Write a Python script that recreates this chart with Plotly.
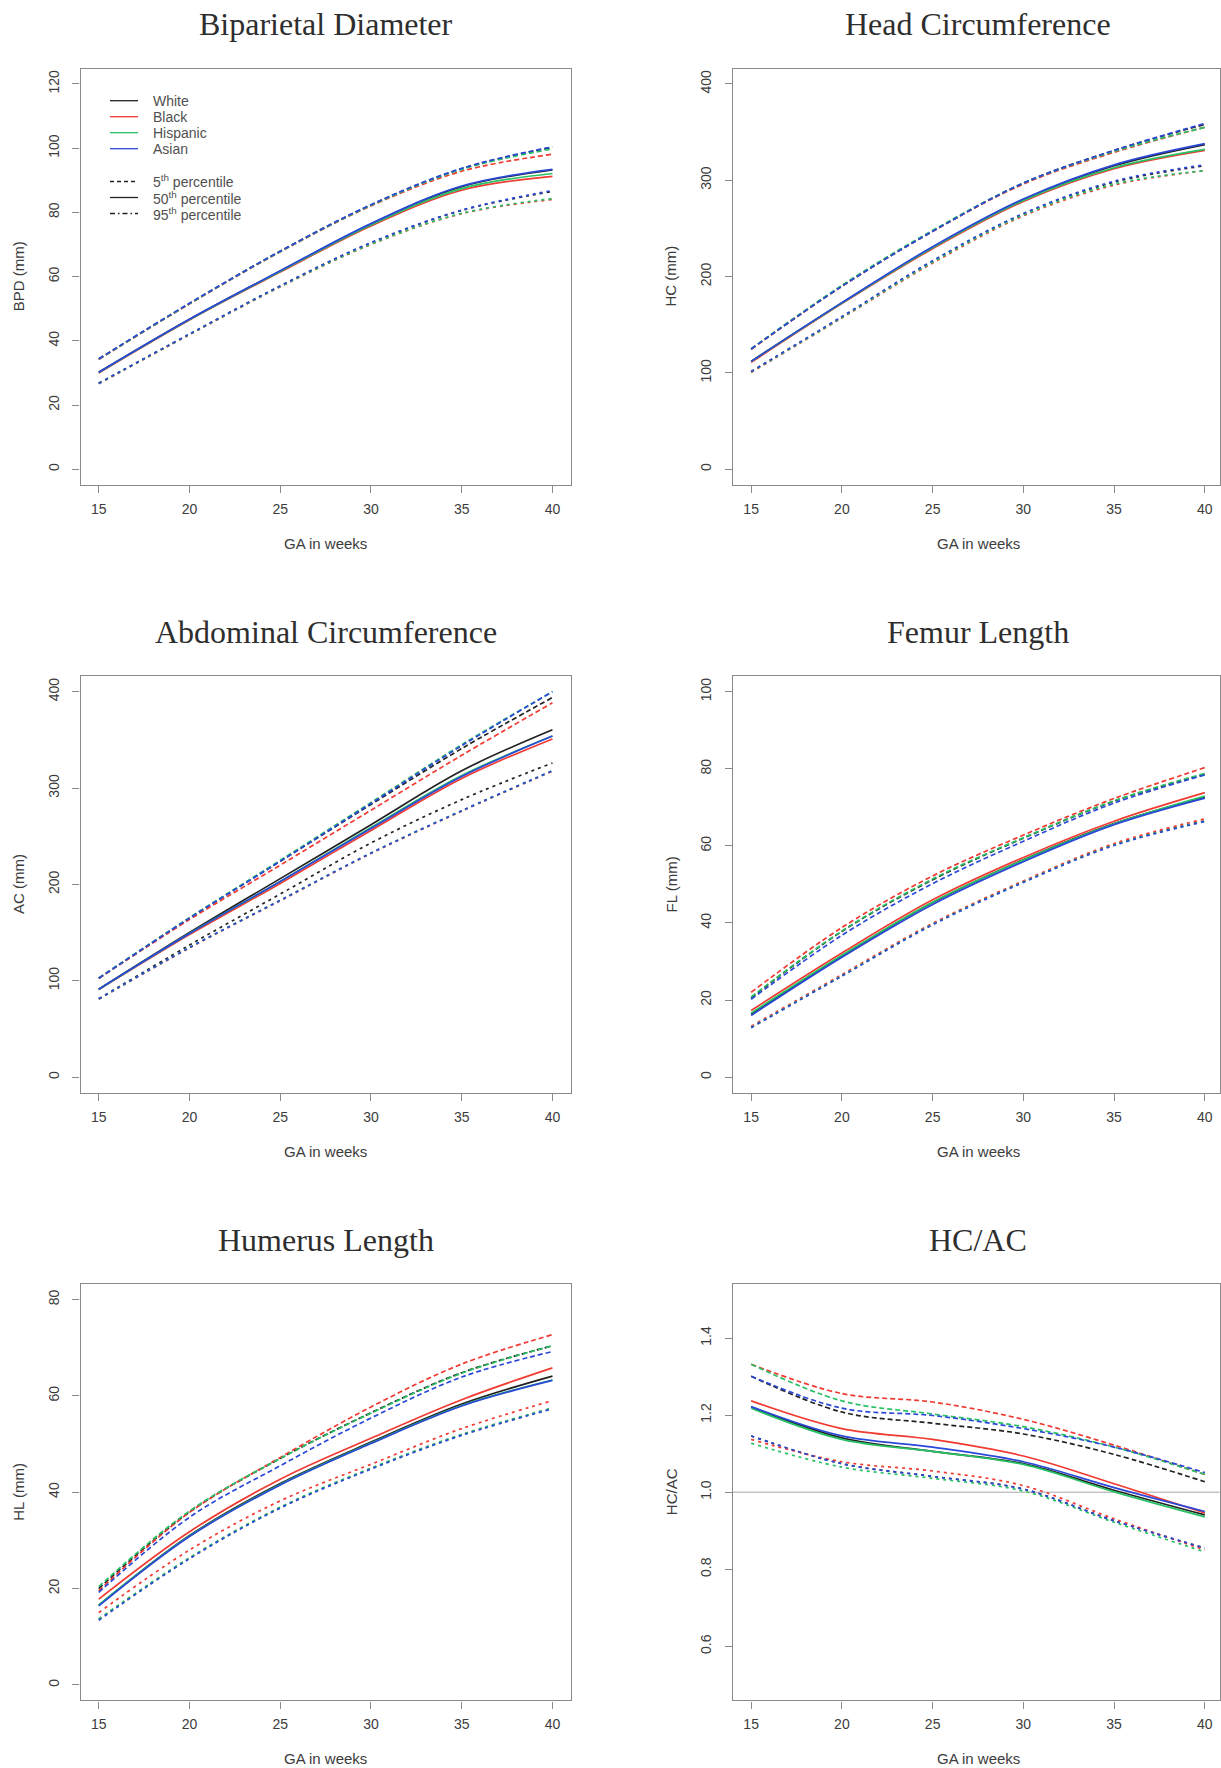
import plotly.graph_objects as go

# ---------------- data ----------------
GA = [15, 20, 25, 30, 35, 40]
RACES = ["White", "Black", "Hispanic", "Asian"]
RACE_COLORS = ["#222222", "#f03a32", "#27c065", "#2b48d8"]

# rows: White, Black, Hispanic, Asian
BPD_UPPER = [
    [34.3, 51.6, 67.9, 82.3, 93.6, 100.3],
    [34.2, 51.5, 67.7, 82.0, 92.8, 98.1],
    [34.3, 51.6, 67.8, 82.2, 93.4, 99.8],
    [34.4, 51.7, 67.9, 82.4, 93.7, 100.4],
]
BPD_MEDIAN = [
    [30.2, 46.7, 61.7, 76.4, 88.0, 93.2],
    [30.0, 46.5, 61.4, 75.8, 86.9, 91.2],
    [30.1, 46.6, 61.6, 76.1, 87.4, 92.1],
    [30.2, 46.7, 61.8, 76.5, 88.2, 93.4],
]
BPD_LOWER = [
    [26.8, 42.1, 57.1, 70.5, 80.6, 86.5],
    [26.6, 41.9, 56.8, 70.0, 79.6, 84.0],
    [26.7, 42.0, 56.9, 70.1, 79.7, 84.3],
    [26.8, 42.1, 57.1, 70.6, 80.7, 86.8],
]

HC_UPPER = [
    [124.8, 190.0, 247.0, 297.0, 331.0, 358.0],
    [124.5, 190.0, 247.0, 296.0, 329.0, 355.0],
    [125.0, 191.0, 248.0, 297.0, 330.0, 355.0],
    [124.8, 190.0, 247.0, 297.0, 331.0, 359.0],
]
HC_MEDIAN = [
    [112.0, 172.5, 230.0, 280.0, 315.0, 337.0],
    [111.0, 172.0, 229.0, 278.0, 312.0, 331.0],
    [112.0, 172.5, 230.0, 279.0, 313.0, 332.0],
    [112.0, 173.0, 231.0, 280.5, 316.0, 338.0],
]
HC_LOWER = [
    [101.5, 158.0, 216.0, 265.0, 298.0, 315.0],
    [100.5, 157.0, 214.0, 263.0, 295.0, 310.0],
    [101.0, 157.5, 215.0, 264.0, 296.0, 310.0],
    [101.5, 158.5, 216.5, 265.5, 299.0, 316.0],
]

AC_UPPER = [
    [102.6, 165.0, 224.0, 283.0, 341.0, 394.0],
    [102.3, 163.5, 220.0, 277.0, 334.0, 388.5],
    [102.8, 165.5, 225.0, 285.0, 345.0, 400.0],
    [102.6, 165.0, 224.0, 284.0, 344.0, 400.0],
]
AC_MEDIAN = [
    [91.2, 150.0, 206.0, 262.0, 318.0, 360.5],
    [90.8, 148.0, 201.0, 256.0, 310.0, 351.0],
    [91.0, 149.0, 203.0, 259.0, 313.0, 354.0],
    [91.2, 149.0, 203.0, 258.0, 312.0, 354.0],
]
AC_LOWER = [
    [81.3, 137.0, 190.0, 243.0, 288.0, 326.0],
    [80.8, 134.0, 183.0, 232.0, 276.0, 317.5],
    [81.0, 134.5, 183.5, 232.5, 276.5, 318.0],
    [81.2, 134.5, 183.5, 232.5, 276.5, 318.0],
]

FL_UPPER = [
    [20.6, 37.8, 51.2, 62.0, 71.6, 78.6],
    [22.0, 38.8, 52.2, 62.8, 72.3, 80.3],
    [20.8, 37.9, 51.4, 62.1, 71.7, 78.8],
    [20.2, 36.8, 50.2, 61.2, 71.1, 78.4],
]
FL_MEDIAN = [
    [16.3, 31.4, 45.3, 56.4, 65.8, 72.6],
    [17.3, 32.2, 46.0, 57.0, 66.4, 73.8],
    [16.6, 31.6, 45.4, 56.3, 65.7, 72.9],
    [16.0, 31.1, 44.8, 55.9, 65.5, 72.4],
]
FL_LOWER = [
    [12.9, 26.3, 39.7, 50.7, 60.3, 66.5],
    [13.2, 26.6, 39.9, 50.9, 60.6, 67.0],
    [12.9, 26.3, 39.6, 50.6, 60.2, 66.4],
    [12.8, 26.2, 39.5, 50.5, 60.1, 66.3],
]

HL_UPPER = [
    [20.0, 35.9, 47.0, 56.5, 64.8, 70.4],
    [19.5, 35.8, 47.2, 57.7, 66.6, 72.7],
    [20.4, 36.1, 47.0, 56.4, 64.7, 70.4],
    [19.2, 34.8, 45.5, 55.4, 63.9, 69.2],
]
HL_MEDIAN = [
    [16.5, 31.0, 41.8, 50.4, 58.3, 64.1],
    [17.8, 31.8, 42.7, 51.2, 59.2, 65.8],
    [16.6, 30.9, 41.6, 50.2, 58.0, 63.3],
    [16.4, 30.8, 41.5, 50.1, 57.9, 63.2],
]
HL_LOWER = [
    [13.6, 26.3, 36.8, 44.9, 51.9, 57.4],
    [15.0, 28.0, 38.2, 45.8, 53.2, 59.0],
    [13.7, 26.4, 36.9, 45.0, 52.0, 57.5],
    [13.4, 26.2, 36.7, 44.8, 51.8, 57.3],
]

HCAC_UPPER = [
    [1.301, 1.208, 1.179, 1.151, 1.098, 1.027],
    [1.332, 1.256, 1.234, 1.189, 1.122, 1.046],
    [1.332, 1.237, 1.203, 1.170, 1.117, 1.046],
    [1.301, 1.218, 1.199, 1.165, 1.117, 1.051],
]
HCAC_MEDIAN = [
    [1.221, 1.141, 1.106, 1.074, 1.005, 0.941],
    [1.237, 1.165, 1.137, 1.094, 1.022, 0.946],
    [1.218, 1.137, 1.106, 1.072, 1.001, 0.936],
    [1.222, 1.146, 1.117, 1.079, 1.012, 0.950],
]
HCAC_LOWER = [
    [1.146, 1.074, 1.041, 1.008, 0.926, 0.855],
    [1.137, 1.079, 1.055, 1.017, 0.931, 0.850],
    [1.127, 1.065, 1.036, 1.003, 0.922, 0.845],
    [1.146, 1.074, 1.041, 1.008, 0.926, 0.855],
]

TITLES = ["Biparietal Diameter", "Head Circumference", "Abdominal Circumference",
          "Femur Length", "Humerus Length", "HC/AC"]
YLABELS = ["BPD (mm)", "HC (mm)", "AC (mm)", "FL (mm)", "HL (mm)", "HC/AC"]
XLABEL = "GA in weeks"
X_TICKS = [15, 20, 25, 30, 35, 40]
Y_TICKS = [
    [0, 20, 40, 60, 80, 100, 120],
    [0, 100, 200, 300, 400],
    [0, 100, 200, 300, 400],
    [0, 20, 40, 60, 80, 100],
    [0, 20, 40, 60, 80],
    [0.6, 0.8, 1.0, 1.2, 1.4],
]
Y_TICKTEXT = [None, None, None, None, None, ["0.6", "0.8", "1.0", "1.2", "1.4"]]
Y_LIMITS = [(0, 120), (0, 400), (0, 400), (0, 100), (0, 80), (0.5, 1.5)]
PANEL_DATA = [
    (BPD_UPPER, BPD_MEDIAN, BPD_LOWER),
    (HC_UPPER, HC_MEDIAN, HC_LOWER),
    (AC_UPPER, AC_MEDIAN, AC_LOWER),
    (FL_UPPER, FL_MEDIAN, FL_LOWER),
    (HL_UPPER, HL_MEDIAN, HL_LOWER),
    (HCAC_UPPER, HCAC_MEDIAN, HCAC_LOWER),
]
REF_LINE_HCAC = 1.0

PCT_LABELS = ["5<sup>th</sup> percentile", "50<sup>th</sup> percentile", "95<sup>th</sup> percentile"]

# ---------------- layout geometry (pixels) ----------------
W, H = 1221, 1768
COL_BOX = [(80.6, 570.6), (733.0, 1219.5)]
ROW_TOP = [68.5, 676.3, 1284.1]
BOX_H = 416.2
PX_PER_WEEK = (570.6 - 80.6) / 27.0

TICK_COLOR = "#8a8a8a"
TEXT_COLOR = "#3c3c3c"
SANS = "Liberation Sans, Arial, Helvetica, sans-serif"
SERIF = "Liberation Serif, Times New Roman, serif"

UP_DASH = "5px,3px"
LOW_DASH = "3px,4px"
PCT_KEY_DASH = ["4px,3px", "solid", "5px,3px,1.5px,3px"]


def fx(p):
    return p / W


def fy(p):
    return 1 - p / H


fig = go.Figure()
layout = dict(
    width=W, height=H,
    margin=dict(l=0, r=0, t=0, b=0, pad=0),
    paper_bgcolor="white", plot_bgcolor="white",
    showlegend=False,
    annotations=[], shapes=[],
)

for i in range(6):
    row, col = divmod(i, 2)
    n = "" if i == 0 else str(i + 1)
    x0p, x1p = COL_BOX[col]
    top = ROW_TOP[row]
    bot = top + BOX_H
    xr_hi = 14 + (x1p - x0p) / PX_PER_WEEK
    lo, hi = Y_LIMITS[i]
    ext = 0.04 * (hi - lo)
    ax_common = dict(
        showline=True, linecolor=TICK_COLOR, linewidth=1.4, mirror=True,
        ticks="outside", ticklen=7, tickwidth=1.2, tickcolor=TICK_COLOR,
        showgrid=False, zeroline=False,
        tickfont=dict(family=SANS, size=14, color=TEXT_COLOR),
        fixedrange=True,
    )
    layout["xaxis" + n] = dict(
        ax_common, domain=[fx(x0p), fx(x1p)], range=[14, xr_hi],
        tickvals=X_TICKS, anchor="y" + n, ticklabelstandoff=4,
    )
    yax = dict(
        ax_common, domain=[fy(bot), fy(top)], range=[lo - ext, hi + ext],
        tickvals=Y_TICKS[i], anchor="x" + n, tickangle=-90, ticklabelstandoff=8,
    )
    if Y_TICKTEXT[i] is not None:
        yax["ticktext"] = Y_TICKTEXT[i]
    layout["yaxis" + n] = yax

    cx = (x0p + x0p + 27 * PX_PER_WEEK) / 2
    layout["annotations"].append(dict(
        text=TITLES[i], xref="paper", yref="paper", x=fx(cx), y=fy(top - 44.5),
        showarrow=False, xanchor="center", yanchor="middle",
        font=dict(family=SERIF, size=32, color="#2e2e2e"),
    ))
    layout["annotations"].append(dict(
        text=XLABEL, xref="paper", yref="paper", x=fx(cx), y=fy(bot + 58.5),
        showarrow=False, xanchor="center", yanchor="middle",
        font=dict(family=SANS, size=15, color=TEXT_COLOR),
    ))
    layout["annotations"].append(dict(
        text=YLABELS[i], xref="paper", yref="paper", x=fx(x0p - 62), y=fy((top + bot) / 2),
        showarrow=False, xanchor="center", yanchor="middle", textangle=-90,
        font=dict(family=SANS, size=15, color=TEXT_COLOR),
    ))

    upper, median, lower = PANEL_DATA[i]
    for r in range(4):
        for vals, dash in ((upper[r], UP_DASH), (median[r], "solid"), (lower[r], LOW_DASH)):
            fig.add_trace(go.Scatter(
                x=GA, y=vals, mode="lines", xaxis="x" + n, yaxis="y" + n,
                line=dict(color=RACE_COLORS[r], width=1.7, dash=dash, shape="spline", smoothing=1.0),
                showlegend=False, hoverinfo="skip",
            ))

# reference line at HC/AC = 1
layout["shapes"].append(dict(
    type="line", xref="x6 domain", yref="y6", x0=0, x1=1, y0=REF_LINE_HCAC, y1=REF_LINE_HCAC,
    line=dict(color="#a8a8a8", width=1), layer="below",
))

# ---------------- legend (R-style, inside first panel) ----------------
LEG_KEY_X0, LEG_KEY_X1, LEG_TEXT_X = 110, 138, 151
LEG_RACE_Y0, LEG_PCT_Y0, LEG_STEP = 100.7, 181.5, 16.0
legend_items = [(RACES[k], RACE_COLORS[k], "solid", LEG_RACE_Y0 + k * LEG_STEP) for k in range(4)]
legend_items += [(PCT_LABELS[k], "#222222", PCT_KEY_DASH[k], LEG_PCT_Y0 + k * LEG_STEP) for k in range(3)]
for label, color, dash, ypix in legend_items:
    layout["shapes"].append(dict(
        type="line", xref="paper", yref="paper",
        x0=fx(LEG_KEY_X0), x1=fx(LEG_KEY_X1), y0=fy(ypix), y1=fy(ypix),
        line=dict(color=color, width=1.3, dash=dash),
    ))
    layout["annotations"].append(dict(
        text=label, xref="paper", yref="paper", x=fx(LEG_TEXT_X), y=fy(ypix),
        showarrow=False, xanchor="left", yanchor="middle",
        font=dict(family=SANS, size=14, color="#505050"),
    ))

fig.update_layout(**layout)
fig.write_html(
    "out.html",
    config={"displayModeBar": False, "staticPlot": False},
    post_script="document.body.style.margin='0';document.body.style.overflow='hidden';"
                "document.documentElement.style.overflow='hidden';",
)
